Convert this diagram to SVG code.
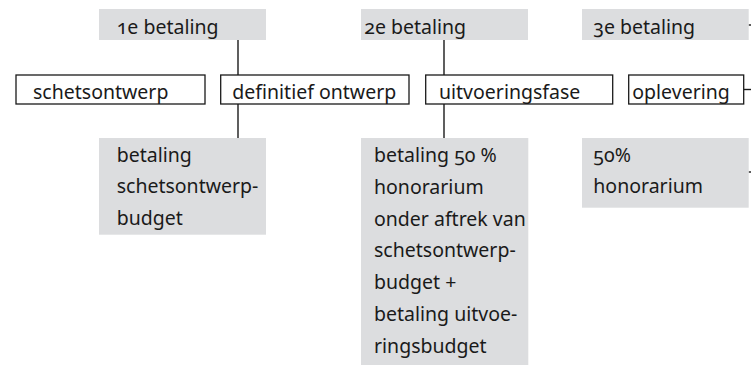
<svg xmlns="http://www.w3.org/2000/svg" width="751" height="367" viewBox="0 0 751 367">
<style>
text{font-family:"Noto Sans","Open Sans","DejaVu Sans",sans-serif;font-size:19.5px;fill:#1a1a1a;font-variant-numeric:oldstyle-nums;font-feature-settings:"onum" 1}
.g{fill:#dcdddf;stroke:none}
.b{fill:#fff;stroke:#1a1a1a;stroke-width:1.3}
.c{stroke:#1a1a1a;stroke-width:1.4;fill:none}
</style>
<rect width="751" height="367" fill="#fff"/>
<g id="connectors">
<line class="c" x1="238" y1="40" x2="238" y2="75"/>
<line class="c" x1="238" y1="104" x2="238" y2="138"/>
<line class="c" x1="444" y1="40" x2="444" y2="75"/>
<line class="c" x1="444" y1="104" x2="444" y2="138"/>
<line class="c" x1="748.5" y1="25" x2="751" y2="25"/>
<line class="c" x1="744" y1="89.5" x2="751" y2="89.5"/>
<line class="c" x1="748.5" y1="172" x2="751" y2="172"/>
</g>
<g id="betaling1"><rect class="g" x="99" y="9" width="167" height="31"/><text x="116.7" y="34">1e betaling</text></g>
<g id="betaling2"><rect class="g" x="361" y="9" width="167" height="31"/><text x="364.3" y="34">2e betaling</text></g>
<g id="betaling3"><rect class="g" x="582" y="9" width="166.7" height="31"/><text x="593.3" y="34">3e betaling</text></g>
<g id="schetsontwerp"><rect class="b" x="16" y="75" width="189" height="29"/><text x="33" y="99">schetsontwerp</text></g>
<g id="definitief"><rect class="b" x="220.7" y="75" width="188.3" height="29"/><text x="232.3" y="99">definitief ontwerp</text></g>
<g id="uitvoeringsfase"><rect class="b" x="425.7" y="75" width="187" height="29"/><text x="439" y="99">uitvoeringsfase</text></g>
<g id="oplevering"><rect class="b" x="628.7" y="75" width="115" height="29"/><text x="632.3" y="99">oplevering</text></g>
<g id="betaling-schets"><rect class="g" x="99" y="138" width="167" height="96.7"/>
<text x="116.7"><tspan x="116.7" y="161.7">betaling</tspan><tspan x="116.7" y="193.4">schetsontwerp-</tspan><tspan x="116.7" y="225.1">budget</tspan></text></g>
<g id="betaling-50"><rect class="g" x="361" y="138" width="167.3" height="227"/>
<text x="374"><tspan x="374" y="162.3">betaling 50 %</tspan><tspan x="374" y="194">honorarium</tspan><tspan x="374" y="225.7">onder aftrek van</tspan><tspan x="374" y="257.4">schetsontwerp-</tspan><tspan x="374" y="289.1">budget +</tspan><tspan x="374" y="320.8">betaling uitvoe-</tspan><tspan x="374" y="352.5">ringsbudget</tspan></text></g>
<g id="honorarium-50"><rect class="g" x="582" y="138" width="166.7" height="69.7"/>
<text x="593.3"><tspan x="593.3" y="161.7">50%</tspan><tspan x="593.3" y="193.4">honorarium</tspan></text></g>
</svg>
